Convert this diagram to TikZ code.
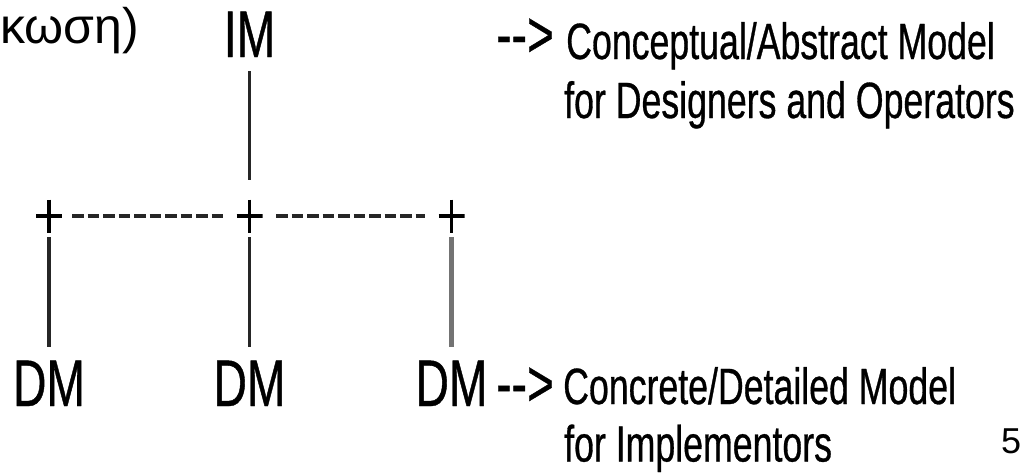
\documentclass[tikz,border=0pt]{standalone}
\usepackage{fontspec}
\setmainfont{Liberation Sans}
\newfontfamily\condfont[FakeStretch=0.7,FakeBold=0.6]{Liberation Sans}
\tikzset{
  big/.style={font=\condfont\fontsize{66}{70}\selectfont, inner sep=0pt, anchor=base},
  lbl/.style={font=\condfont\fontsize{51}{55}\selectfont, inner sep=0pt, anchor=base west},
  junction/.style={minimum width=26pt, minimum height=33pt, inner sep=0pt,
    path picture={
      \draw[line width=3.5pt] (path picture bounding box.north) -- (path picture bounding box.south);
      \draw[line width=3.5pt] (path picture bounding box.west) -- (path picture bounding box.east);}},
  link/.style={line width=3.5pt, draw=black!85},
  dashlink/.style={line width=4.5pt, draw=black!85, dash pattern=on 11.3pt off 4.2pt},
}
\begin{document}
\begin{tikzpicture}[x=1pt,y=-1pt]
\useasboundingbox (0,0) rectangle (1035,472);
% title fragment
\node[inner sep=0pt, anchor=base west, font=\fontsize{50}{54}\selectfont] (title) at (0,43) {κωση)};
% top model
\node[big] (im) at (249.5,57) {IM};
\node[big, anchor=base west] (arrA) at (496,57) {-{}-{}>};
\node[lbl] (cA) at (566,59) {Conceptual/Abstract Model};
\node[lbl] (cB) at (564,118) {for Designers and Operators};
% junctions
\node[junction] (p1) at (49,216) {};
\node[junction] (p2) at (249.5,216) {};
\node[junction] (p3) at (451.5,216) {};
% detailed models
\node[big] (dm1) at (49,406) {DM};
\node[big] (dm2) at (249.5,406) {DM};
\node[big] (dm3) at (451.5,406) {DM};
\node[big, anchor=base west] (arrB) at (496,406) {-{}-{}>};
\node[lbl] (dA) at (563,404) {Concrete/Detailed Model};
\node[lbl] (dB) at (564,461.5) {for Implementors};
% page number
\node[inner sep=0pt, anchor=base west, font=\fontsize{36}{40}\selectfont] (pg) at (1001,453) {5};
% connectors
\draw[link, shorten <=14pt, shorten >=19.5pt] (im.south) -- (p2.north);
\draw[dashlink, shorten <=10pt, shorten >=12pt] (p1.east) -- (p2.west);
\draw[dashlink, shorten <=13.5pt, shorten >=13.5pt] (p2.east) -- (p3.west);
\draw[link, shorten <=4.5pt, shorten >=13.5pt] (p1.south) -- (dm1.north);
\draw[link, shorten <=4.5pt, shorten >=13.5pt] (p2.south) -- (dm2.north);
\draw[link, draw=black!55, line width=4.5pt, shorten <=4.5pt, shorten >=13.5pt] (p3.south) -- (dm3.north);
\end{tikzpicture}
\end{document}
